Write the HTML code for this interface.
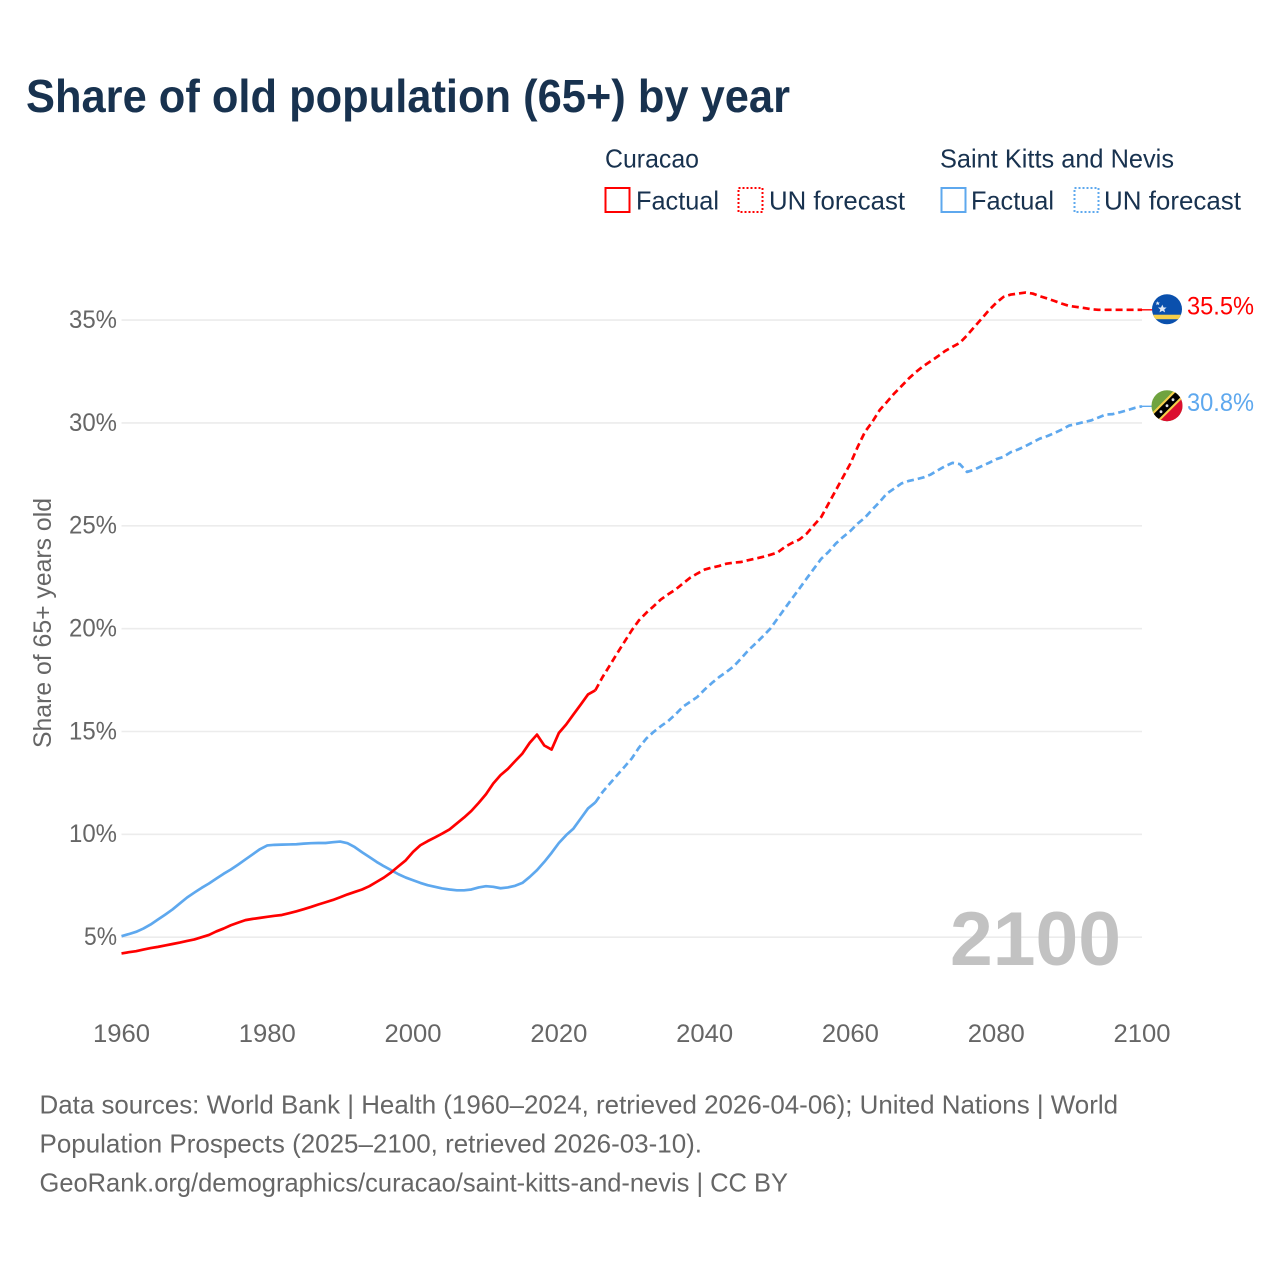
<!DOCTYPE html>
<html lang="en">
<head>
<meta charset="utf-8">
<title>Share of old population (65+) by year</title>
<style>
html,body{margin:0;padding:0;background:#fff;width:1280px;height:1280px;overflow:hidden}
svg{display:block}
text{font-family:"Liberation Sans",Arial,sans-serif}
.navy{fill:#18324f}
.grey{fill:#666}
</style>
</head>
<body>
<svg id="chart" xmlns="http://www.w3.org/2000/svg" width="1280" height="1280" viewBox="0 0 1280 1280">
  <rect x="0" y="0" width="1280" height="1280" fill="#fff"/>
  <text class="navy" x="26" y="112" font-size="46" font-weight="700" textLength="764" lengthAdjust="spacingAndGlyphs">Share of old population (65+) by year</text>

  <g font-size="26">
    <text class="navy" x="605" y="167.5" textLength="94" lengthAdjust="spacingAndGlyphs">Curacao</text>
    <text class="navy" x="940" y="167.5" textLength="234" lengthAdjust="spacingAndGlyphs">Saint Kitts and Nevis</text>
    <rect x="605.5" y="188" width="24" height="24" fill="none" stroke="#ff0000" stroke-width="2"/>
    <text class="navy" x="636" y="209.5" textLength="83" lengthAdjust="spacingAndGlyphs">Factual</text>
    <rect x="738.5" y="188" width="24" height="24" fill="none" stroke="#ff0000" stroke-width="2" stroke-dasharray="2 2"/>
    <text class="navy" x="769" y="209.5" textLength="136" lengthAdjust="spacingAndGlyphs">UN forecast</text>
    <rect x="941.5" y="188" width="24" height="24" fill="none" stroke="#5ea8ee" stroke-width="2"/>
    <text class="navy" x="971" y="209.5" textLength="83" lengthAdjust="spacingAndGlyphs">Factual</text>
    <rect x="1074.5" y="188" width="24" height="24" fill="none" stroke="#5ea8ee" stroke-width="2" stroke-dasharray="2 2"/>
    <text class="navy" x="1104" y="209.5" textLength="137" lengthAdjust="spacingAndGlyphs">UN forecast</text>
  </g>

  <g id="grid"></g>
  <g id="yticks" font-size="25"></g>
  <g id="xticks" font-size="25"></g>
  <text class="grey" font-size="25" text-anchor="middle" transform="translate(51 623) rotate(-90)" textLength="250" lengthAdjust="spacingAndGlyphs">Share of 65+ years old</text>
  <text x="950" y="965" font-size="76" font-weight="700" fill="#c2c2c2" textLength="171" lengthAdjust="spacingAndGlyphs">2100</text>

  <g id="series"></g>

  <defs>
    <clipPath id="flagClipA"><circle cx="0" cy="0" r="15"/></clipPath>
    <clipPath id="flagClipB"><circle cx="0" cy="0" r="15.5"/></clipPath>
  </defs>
  <g id="flagCuracao" clip-path="url(#flagClipA)">
    <rect x="-16" y="-16" width="32" height="32" fill="#0a50ad"/>
    <rect x="-16" y="5.5" width="32" height="4.5" fill="#f6cf4a"/>
    <polygon fill="#dfe8f5" points="-4.7,-4.6 -3.4,-1.7 -0.4,-1.7 -2.7,0.3 -1.9,3.2 -4.7,1.5 -7.5,3.2 -6.7,0.3 -9,-1.7 -6,-1.7"/>
    <polygon fill="#dfe8f5" points="-9.3,-8 -8.6,-6.6 -7.1,-6.6 -8.3,-5.6 -7.8,-4.1 -9.3,-5 -10.8,-4.1 -10.3,-5.6 -11.5,-6.6 -10,-6.6"/>
  </g>
  <g id="flagSkn" clip-path="url(#flagClipB)">
    <rect x="-16" y="-16" width="32" height="32" fill="#6fa33f"/>
    <polygon points="16,-16 16,16 -16,16" fill="#dc0f2f"/>
    <polygon points="-16,8 8,-16 16,-16 16,-8 -8,16 -16,16" fill="#f6cf4a"/>
    <polygon points="-16,11 11,-16 16,-16 16,-11 -11,16 -16,16" fill="#000"/>
    <circle cx="-6" cy="6" r="1.4" fill="#ddd"/>
    <circle cx="0" cy="0" r="1.4" fill="#ddd"/>
    <circle cx="6" cy="-6" r="1.4" fill="#ddd"/>
  </g>
  <g id="endLabels" font-size="25"></g>

  <g class="grey" font-size="26">
    <text x="39.5" y="1113.5" textLength="1078.5" lengthAdjust="spacingAndGlyphs">Data sources: World Bank | Health (1960–2024, retrieved 2026-04-06); United Nations | World</text>
    <text x="39.5" y="1152.5" textLength="662.5" lengthAdjust="spacingAndGlyphs">Population Prospects (2025–2100, retrieved 2026-03-10).</text>
    <text x="39.5" y="1191.5" textLength="748.5" lengthAdjust="spacingAndGlyphs">GeoRank.org/demographics/curacao/saint-kitts-and-nevis | CC BY</text>
  </g>
</svg>

<script>
const xTickYears = [1960, 1980, 2000, 2020, 2040, 2060, 2080, 2100];
const yTickValues = [5, 10, 15, 20, 25, 30, 35];
const factualStartYear = 1960;
const forecastStartYear = 2025;

const curacaoFactual = [
  4.21,4.27,4.32,4.40,4.47,4.53,4.60,4.67,4.74,4.82,
  4.89,5.00,5.11,5.28,5.42,5.58,5.71,5.83,5.89,5.94,
  5.99,6.04,6.08,6.17,6.26,6.36,6.47,6.59,6.70,6.81,
  6.94,7.08,7.20,7.32,7.48,7.69,7.90,8.15,8.45,8.74,
  9.15,9.47,9.67,9.85,10.04,10.24,10.53,10.82,11.14,11.53,
  11.95,12.47,12.88,13.18,13.56,13.93,14.45,14.85,14.32,14.12,
  14.93,15.34,15.83,16.31,16.80,17.00
];
const curacaoForecast = [
  17.00,17.65,18.22,18.80,19.36,19.92,20.41,20.77,21.09,21.42,
  21.67,21.90,22.19,22.47,22.68,22.87,22.97,23.05,23.16,23.21,
  23.24,23.33,23.41,23.49,23.59,23.70,23.97,24.17,24.33,24.62,
  25.03,25.43,26.08,26.73,27.38,28.03,28.84,29.57,30.05,30.62,
  31.02,31.43,31.79,32.16,32.48,32.76,33.00,33.24,33.50,33.70,
  33.89,34.26,34.67,35.07,35.48,35.84,36.13,36.24,36.29,36.34,
  36.29,36.16,36.05,35.93,35.80,35.69,35.64,35.59,35.53,35.50,
  35.50,35.50,35.50,35.50,35.50,35.50
];
const sknFactual = [
  5.05,5.15,5.26,5.42,5.62,5.86,6.10,6.35,6.64,6.93,
  7.17,7.40,7.61,7.85,8.08,8.29,8.53,8.78,9.03,9.28,
  9.46,9.49,9.50,9.51,9.52,9.55,9.57,9.58,9.58,9.62,
  9.65,9.57,9.38,9.13,8.90,8.66,8.45,8.26,8.06,7.90,
  7.77,7.64,7.53,7.45,7.37,7.32,7.28,7.28,7.32,7.42,
  7.48,7.45,7.38,7.42,7.50,7.64,7.93,8.26,8.66,9.10,
  9.58,9.96,10.28,10.77,11.26,11.55
];
const sknForecast = [
  11.55,12.06,12.47,12.88,13.28,13.69,14.22,14.66,14.98,15.26,
  15.51,15.83,16.20,16.44,16.68,17.04,17.36,17.65,17.90,18.17,
  18.55,18.95,19.28,19.63,20.00,20.49,20.98,21.47,21.95,22.44,
  22.92,23.40,23.73,24.14,24.46,24.75,25.11,25.40,25.79,26.16,
  26.57,26.81,27.06,27.18,27.26,27.35,27.49,27.70,27.90,28.06,
  28.00,27.62,27.73,27.90,28.06,28.24,28.35,28.58,28.71,28.87,
  29.06,29.24,29.36,29.51,29.68,29.87,29.95,30.04,30.12,30.26,
  30.41,30.43,30.52,30.62,30.73,30.81
];

const NS = 'http://www.w3.org/2000/svg';
const RED = '#ff0000';
const BLUE = '#5ea8ee';
const FLAG_X = 1167;

function xScale(year) { return 121.5 + (year - 1960) * (1142 - 121.5) / 140; }
function yScale(value) { return 937.2 - (value - 5) * 20.57; }

function make(tag, attrs) {
  const el = document.createElementNS(NS, tag);
  for (const key in attrs) el.setAttribute(key, attrs[key]);
  return el;
}

function pointsFor(values, startYear) {
  return values.map((v, i) => xScale(startYear + i).toFixed(2) + ',' + yScale(v).toFixed(2)).join(' ');
}

const grid = document.getElementById('grid');
const yticks = document.getElementById('yticks');
yTickValues.forEach(v => {
  const line = make('line', { x1: xScale(1960), x2: xScale(2100), y1: yScale(v), y2: yScale(v), stroke: '#ececec', 'stroke-width': 1.6 });
  
  
  grid.appendChild(line);
  const label = v + '%';
  const t = make('text', { x: 117, y: yScale(v) + 7.8, 'text-anchor': 'end', fill: '#666', textLength: label.length === 2 ? 33 : 48, lengthAdjust: 'spacingAndGlyphs' });
  t.textContent = label;
  
  
  yticks.appendChild(t);
});

const xticks = document.getElementById('xticks');
xTickYears.forEach(year => {
  const t = make('text', { x: xScale(year), y: 1042, 'text-anchor': 'middle', fill: '#666', textLength: 57, lengthAdjust: 'spacingAndGlyphs' });
  t.textContent = String(year);
  
  
  xticks.appendChild(t);
});

const series = document.getElementById('series');
function drawSeries(values, startYear, color, dashed, name) {
  const line = make('polyline', {
    points: pointsFor(values, startYear),
    fill: 'none',
    stroke: color,
    'stroke-width': 2.7,
    'stroke-linejoin': 'round'
  });
  if (dashed) line.setAttribute('stroke-dasharray', '7 4');
  
  
  series.appendChild(line);
}
drawSeries(curacaoForecast, forecastStartYear, RED, true, 'line-curacao-forecast');
drawSeries(sknForecast, forecastStartYear, BLUE, true, 'line-skn-forecast');
drawSeries(sknFactual, factualStartYear, BLUE, false, 'line-skn-factual');
drawSeries(curacaoFactual, factualStartYear, RED, false, 'line-curacao-factual');

const endLabels = document.getElementById('endLabels');
function drawEnd(values, color, flagId, name) {
  const last = values[values.length - 1];
  const py = yScale(last);
  const leader = make('line', { x1: xScale(2100), x2: FLAG_X, y1: py, y2: py, stroke: color, 'stroke-width': 1.4 });
  
  
  series.appendChild(leader);
  document.getElementById(flagId).setAttribute('transform', 'translate(' + FLAG_X + ' ' + (py - 0.6) + ')');
  const t = make('text', { x: 1187, y: py + 4.8, fill: color, textLength: 67, lengthAdjust: 'spacingAndGlyphs' });
  t.textContent = last.toFixed(1) + '%';
  
  
  endLabels.appendChild(t);
}
drawEnd(curacaoForecast, RED, 'flagCuracao', 'curacao');
drawEnd(sknForecast, BLUE, 'flagSkn', 'skn');
</script>
</body>
</html>
